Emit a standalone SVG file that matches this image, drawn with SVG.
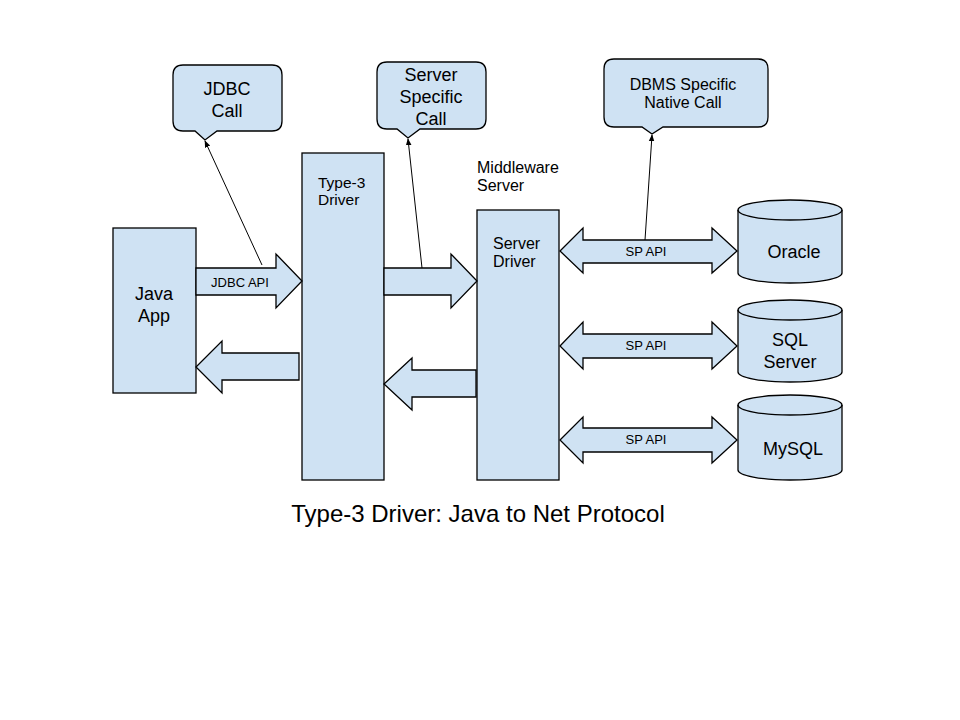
<svg xmlns="http://www.w3.org/2000/svg" width="960" height="720" viewBox="0 0 960 720">
<defs>
<style>
.s{fill:#cfe2f3;stroke:#000;stroke-width:1.3}
.t{font-family:"Liberation Sans",Arial,sans-serif;fill:#000}
.c{text-anchor:middle}
.ln{stroke:#000;stroke-width:1;fill:none;marker-end:url(#ah)}
</style>
<marker id="ah" viewBox="0 0 10 10" refX="9" refY="5" markerWidth="7" markerHeight="7" orient="auto" markerUnits="userSpaceOnUse">
<path d="M0,1 L10,5 L0,9 Z" fill="#000"/>
</marker>
</defs>
<rect width="960" height="720" fill="#fff"/>

<g id="java-app">
<rect class="s" x="113" y="228" width="83" height="165"/>
<text class="t c" x="154" y="300" font-size="18">Java</text>
<text class="t c" x="154" y="322" font-size="18">App</text>
</g>

<g id="type3-driver">
<rect class="s" x="302" y="153" width="82" height="327"/>
<text class="t" x="318" y="188" font-size="15.5">Type-3</text>
<text class="t" x="318" y="205" font-size="15.5">Driver</text>
</g>

<g id="middleware-label">
<text class="t" x="477" y="173" font-size="16">Middleware</text>
<text class="t" x="477" y="191" font-size="16">Server</text>
</g>

<g id="server-driver">
<rect class="s" x="477" y="210" width="82" height="270"/>
<text class="t" x="493" y="249" font-size="16">Server</text>
<text class="t" x="493" y="267" font-size="16">Driver</text>
</g>

<g id="jdbc-call">
<path class="s" d="M183,65 H272 Q282,65 282,75 V121 Q282,131 272,131 H217 L205,140 L195,131 H183 Q173,131 173,121 V75 Q173,65 183,65 Z"/>
<text class="t c" x="227" y="95" font-size="18">JDBC</text>
<text class="t c" x="227" y="117" font-size="18">Call</text>
</g>

<g id="server-specific-call">
<path class="s" d="M387,62 H476 Q486,62 486,72 V119 Q486,129 476,129 H420 L408,138 L397,129 H387 Q377,129 377,119 V72 Q377,62 387,62 Z"/>
<text class="t c" x="431" y="81" font-size="18">Server</text>
<text class="t c" x="431" y="103" font-size="18">Specific</text>
<text class="t c" x="431" y="125" font-size="18">Call</text>
</g>

<g id="dbms-call">
<path class="s" d="M614,59 H758 Q768,59 768,69 V117 Q768,127 758,127 H663 L652,134 L642,127 H614 Q604,127 604,117 V69 Q604,59 614,59 Z"/>
<text class="t c" x="683" y="90" font-size="16">DBMS Specific</text>
<text class="t c" x="683" y="108" font-size="16">Native Call</text>
</g>

<g id="oracle">
<path class="s" d="M738,210 A52,10 0 0 1 842,210 V273 A52,10 0 0 1 738,273 Z"/>
<path d="M738,210 A52,10 0 0 0 842,210" fill="none" stroke="#000" stroke-width="1.3"/>
<text class="t c" x="794" y="258" font-size="18">Oracle</text>
</g>

<g id="sql-server">
<path class="s" d="M738,310 A52,10 0 0 1 842,310 V372 A52,10 0 0 1 738,372 Z"/>
<path d="M738,310 A52,10 0 0 0 842,310" fill="none" stroke="#000" stroke-width="1.3"/>
<text class="t c" x="790" y="346" font-size="18">SQL</text>
<text class="t c" x="790" y="368" font-size="18">Server</text>
</g>

<g id="mysql">
<path class="s" d="M738,405 A52,10 0 0 1 842,405 V470 A52,10 0 0 1 738,470 Z"/>
<path d="M738,405 A52,10 0 0 0 842,405" fill="none" stroke="#000" stroke-width="1.3"/>
<text class="t c" x="793" y="455" font-size="18">MySQL</text>
</g>

<g id="connectors">
<path class="s" d="M196,268 H276 V254 L302,281 L276,308 V295 H196 Z"/>
<text class="t c" x="240" y="287" font-size="13">JDBC API</text>
<path class="s" d="M384,268 H451 V254 L477,281 L451,308 V295 H384 Z"/>
<path class="s" d="M299,353 H222 V341 L196,367 L222,393 V380 H299 Z"/>
<path class="s" d="M476,370 H412 V358 L384,384 L412,410 V397 H476 Z"/>
<path class="s" d="M560,251 L583,228 V240 H712 V228 L737,251 L712,273 V263 H583 V273 Z"/>
<text class="t c" x="646" y="256" font-size="13">SP API</text>
<path class="s" d="M560,346 L583,322 V334 H712 V322 L737,346 L712,369 V358 H583 V369 Z"/>
<text class="t c" x="646" y="350" font-size="13">SP API</text>
<path class="s" d="M560,440 L583,417 V428 H712 V417 L737,440 L712,463 V452 H583 V463 Z"/>
<text class="t c" x="646" y="444" font-size="13">SP API</text>
<line class="ln" x1="262" y1="265" x2="205" y2="141"/>
<line class="ln" x1="422" y1="268" x2="408" y2="139"/>
<line class="ln" x1="645" y1="240" x2="652" y2="135"/>
</g>

<text class="t c" x="478" y="522" font-size="24">Type-3 Driver: Java to Net Protocol</text>
</svg>
